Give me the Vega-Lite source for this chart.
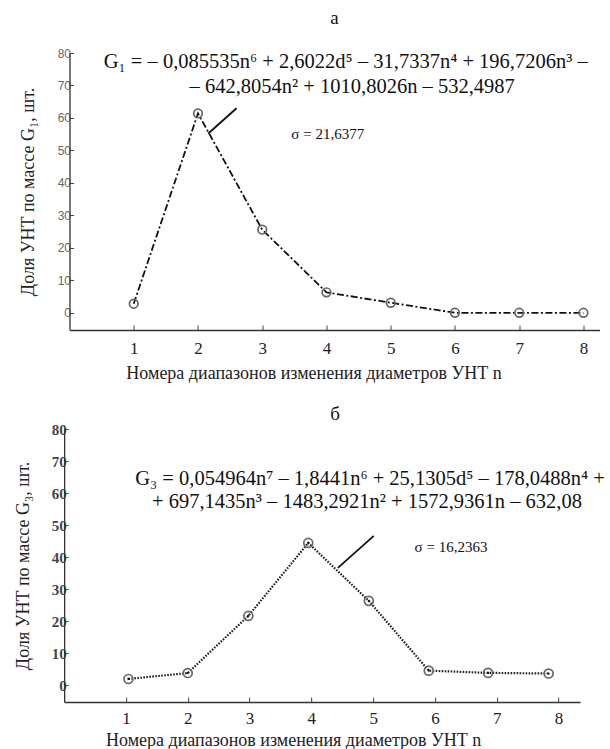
{
  "$schema": "https://vega.github.io/schema/vega-lite/v6.json",
  "background": "white",
  "padding": {"left": 14, "top": 9, "right": 4, "bottom": 4},
  "spacing": 23,
  "center": true,
  "config": {
    "view": {"stroke": null},
    "font": "Liberation Serif",
    "axis": {"grid": false, "domainColor": "#333", "tickColor": "#444", "domainWidth": 1.3, "labelOverlap": false}
  },
  "vconcat": [
    {
      "width": 530,
      "height": 277,
      "title": {"text": "а", "font": "Liberation Serif", "fontSize": 19, "fontWeight": "normal", "color": "#111", "offset": 19},
      "data": {"values": [
        {"n": 1, "g": 2.8},
        {"n": 2, "g": 61.4},
        {"n": 3, "g": 25.6},
        {"n": 4, "g": 6.3},
        {"n": 5, "g": 3.1},
        {"n": 6, "g": 0},
        {"n": 7, "g": 0},
        {"n": 8, "g": 0}
      ]},
      "layer": [
        {
          "mark": {"type": "line", "color": "#111", "strokeWidth": 1.8, "strokeDash": [7, 2.5, 2, 2.5]},
          "encoding": {
            "x": {"field": "n", "type": "quantitative", "scale": {"domain": [0, 8.25], "nice": false},
              "axis": {"title": "Номера диапазонов изменения диаметров УНТ n", "titleFont": "Liberation Serif", "titleFontSize": 18, "titleFontWeight": "normal", "titleColor": "#222", "titleX": 244, "titleAlign": "center", "titlePadding": 8,
                "values": [1, 2, 3, 4, 5, 6, 7, 8], "format": "d", "tickSize": -5, "labelFont": "Liberation Serif", "labelFontSize": 17, "labelColor": "#222", "labelPadding": 15}},
            "y": {"field": "g", "type": "quantitative", "scale": {"domain": [-5.3, 80], "nice": false},
              "axis": {"title": "Доля УНТ по массе G₁, шт.", "titleFont": "Liberation Serif", "titleFontSize": 18, "titleFontWeight": "normal", "titleColor": "#222", "titlePadding": 20,
                "values": [0, 10, 20, 30, 40, 50, 60, 70, 80], "tickCount": 9, "format": "d", "labelOverlap": false, "tickSize": -4, "labelFont": "Liberation Sans", "labelFontSize": 12, "labelColor": "#666", "labelPadding": 3}}
          }
        },
        {
          "mark": {"type": "point", "shape": "circle", "filled": false, "size": 75, "stroke": "#666", "strokeWidth": 1.7, "opacity": 1},
          "encoding": {
            "x": {"field": "n", "type": "quantitative"},
            "y": {"field": "g", "type": "quantitative"}
          }
        },
        {
          "data": {"values": [{"n": 2.16, "g": 55.2, "n2": 2.6, "g2": 63}]},
          "mark": {"type": "rule", "color": "#111", "strokeWidth": 1.8},
          "encoding": {
            "x": {"field": "n", "type": "quantitative"},
            "y": {"field": "g", "type": "quantitative"},
            "x2": {"field": "n2"},
            "y2": {"field": "g2"}
          }
        },
        {
          "data": {"values": [
            {"n": 4.3, "g": 77.2, "t": "G₁ = – 0,085535n⁶ + 2,6022d⁵ – 31,7337n⁴ + 196,7206n³ –"},
            {"n": 4.4, "g": 69.6, "t": "– 642,8054n² + 1010,8026n – 532,4987"}
          ]},
          "mark": {"type": "text", "font": "Liberation Serif", "fontSize": 20.5, "color": "#111", "baseline": "middle", "align": "center"},
          "encoding": {
            "x": {"field": "n", "type": "quantitative"},
            "y": {"field": "g", "type": "quantitative"},
            "text": {"field": "t"}
          }
        },
        {
          "data": {"values": [{"n": 4.02, "g": 55.2, "t": "σ = 21,6377"}]},
          "mark": {"type": "text", "font": "Liberation Serif", "fontSize": 15, "color": "#111", "baseline": "middle", "align": "center"},
          "encoding": {
            "x": {"field": "n", "type": "quantitative"},
            "y": {"field": "g", "type": "quantitative"},
            "text": {"field": "t"}
          }
        }
      ]
    },
    {
      "width": 516,
      "height": 273,
      "title": {"text": "б", "font": "Liberation Serif", "fontSize": 19, "fontWeight": "normal", "color": "#111", "offset": -2, "dx": 13},
      "data": {"values": [
        {"n": 1.04, "g": 1.9},
        {"n": 2.0, "g": 3.75},
        {"n": 2.98, "g": 21.6},
        {"n": 3.95, "g": 44.4},
        {"n": 4.93, "g": 26.3},
        {"n": 5.9, "g": 4.5},
        {"n": 6.86, "g": 3.8},
        {"n": 7.84, "g": 3.6}
      ]},
      "layer": [
        {
          "mark": {"type": "line", "color": "#222", "strokeWidth": 2.2, "strokeDash": [1.6, 1.4]},
          "encoding": {
            "x": {"field": "n", "type": "quantitative", "scale": {"domain": [0, 8.35], "nice": false},
              "axis": {"title": "Номера диапазонов изменения диаметров УНТ n", "titleFont": "Liberation Serif", "titleFontSize": 18, "titleFontWeight": "normal", "titleColor": "#222", "titleX": 229, "titleAlign": "center", "titlePadding": 5,
                "values": [1, 2, 3, 4, 5, 6, 7, 8], "format": "d", "tickSize": -5, "labelFont": "Liberation Serif", "labelFontSize": 17, "labelColor": "#222", "labelPadding": 13}},
            "y": {"field": "g", "type": "quantitative", "scale": {"domain": [-5.3, 80], "nice": false},
              "axis": {"title": "Доля УНТ по массе G₃, шт.", "titleFont": "Liberation Serif", "titleFontSize": 18, "titleFontWeight": "normal", "titleColor": "#222", "titlePadding": 19,
                "values": [0, 10, 20, 30, 40, 50, 60, 70, 80], "tickCount": 9, "format": "d", "labelOverlap": false, "tickSize": -4, "labelFont": "Liberation Serif", "labelFontSize": 15, "labelFontWeight": "bold", "labelColor": "#444", "labelPadding": 2}}
          }
        },
        {
          "mark": {"type": "point", "shape": "circle", "filled": false, "size": 80, "stroke": "#666", "strokeWidth": 1.7, "opacity": 1},
          "encoding": {
            "x": {"field": "n", "type": "quantitative"},
            "y": {"field": "g", "type": "quantitative"}
          }
        },
        {
          "mark": {"type": "point", "shape": "circle", "filled": true, "size": 5, "color": "#111", "opacity": 1},
          "encoding": {
            "x": {"field": "n", "type": "quantitative"},
            "y": {"field": "g", "type": "quantitative"}
          }
        },
        {
          "data": {"values": [{"n": 4.43, "g": 36.6, "n2": 5.01, "g2": 46.6}]},
          "mark": {"type": "rule", "color": "#111", "strokeWidth": 1.8},
          "encoding": {
            "x": {"field": "n", "type": "quantitative"},
            "y": {"field": "g", "type": "quantitative"},
            "x2": {"field": "n2"},
            "y2": {"field": "g2"}
          }
        },
        {
          "data": {"values": [
            {"n": 4.95, "g": 64.4, "t": "G₃ = 0,054964n⁷ – 1,8441n⁶ + 25,1305d⁵ – 178,0488n⁴ +"},
            {"n": 4.90, "g": 57.2, "t": "+ 697,1435n³ – 1483,2921n² + 1572,9361n – 632,08"}
          ]},
          "mark": {"type": "text", "font": "Liberation Serif", "fontSize": 20.5, "color": "#111", "baseline": "middle", "align": "center"},
          "encoding": {
            "x": {"field": "n", "type": "quantitative"},
            "y": {"field": "g", "type": "quantitative"},
            "text": {"field": "t"}
          }
        },
        {
          "data": {"values": [{"n": 6.26, "g": 43.1, "t": "σ = 16,2363"}]},
          "mark": {"type": "text", "font": "Liberation Serif", "fontSize": 15, "color": "#111", "baseline": "middle", "align": "center"},
          "encoding": {
            "x": {"field": "n", "type": "quantitative"},
            "y": {"field": "g", "type": "quantitative"},
            "text": {"field": "t"}
          }
        }
      ]
    }
  ]
}
